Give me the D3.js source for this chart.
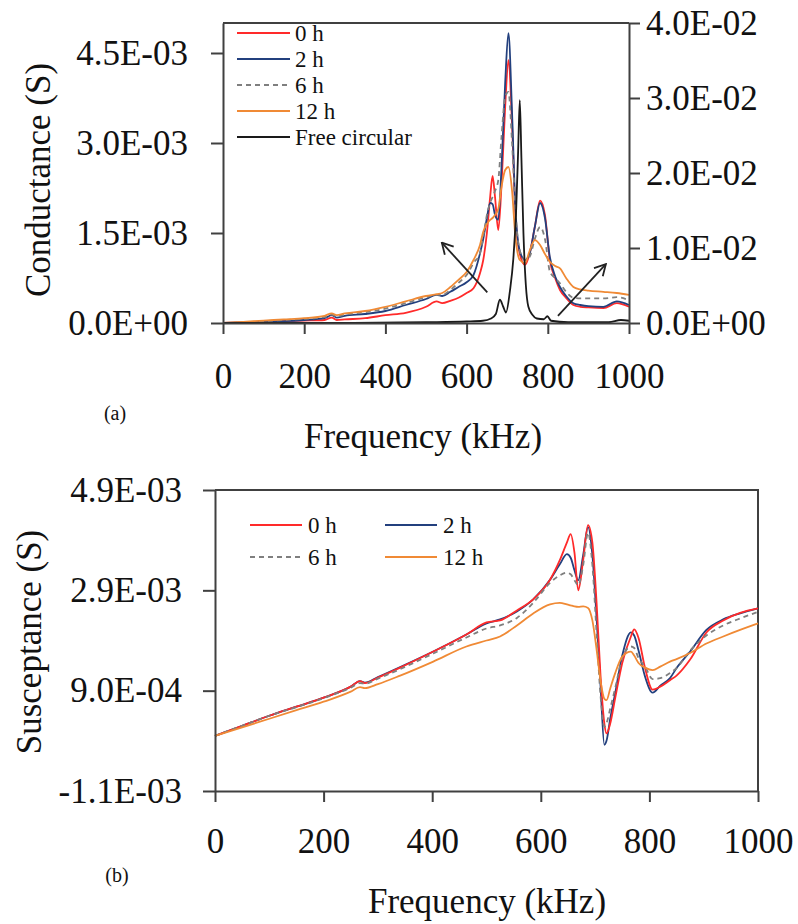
<!DOCTYPE html>
<html>
<head>
<meta charset="utf-8">
<script src="https://cdn.jsdelivr.net/npm/d3@7"></script>
<style>
  body { margin: 0; background: #fff; }
  svg text { font-family: "Liberation Serif", "Times New Roman", serif; }
</style>
</head>
<body>
<div id="chart"></div>
<script>
// (a) conductance, values in mS (x 1e-3 S)
const freqA = [0, 50, 100, 150, 200, 250, 268, 280, 300, 350, 400, 450, 500, 526, 540, 560, 580, 600, 617, 633,
  641, 650, 658, 664, 670, 678, 686, 695, 703, 712, 720, 731, 744, 755, 768, 781, 793, 805, 818, 830,
  845, 863, 880, 900, 937, 970, 1000];
const cond0h = [0, 0.01, 0.02, 0.03, 0.04, 0.05, 0.09, 0.05, 0.06, 0.08, 0.13, 0.17, 0.27, 0.36, 0.33, 0.37, 0.42, 0.50, 0.58, 0.83,
  1.05, 1.5, 2.1, 2.45, 2.1, 1.55, 2.3, 3.6, 4.38, 3.3, 1.85, 1.15, 0.97, 1.15, 1.6, 2.04, 1.8, 1.05, 0.75, 0.55,
  0.42, 0.30, 0.27, 0.26, 0.25, 0.33, 0.27];
const cond2h = [0, 0.01, 0.02, 0.03, 0.05, 0.08, 0.13, 0.09, 0.12, 0.15, 0.2, 0.3, 0.40, 0.47, 0.45, 0.52, 0.60, 0.68, 0.80, 1.16,
  1.4, 1.75, 2.0, 1.98, 1.8, 1.72, 2.6, 4.0, 4.83, 3.5, 1.95, 1.2, 1.05, 1.15, 1.6, 2.0, 1.75, 1.1, 0.78, 0.6,
  0.45, 0.33, 0.30, 0.28, 0.27, 0.36, 0.30];
const cond6h = [0, 0.01, 0.03, 0.05, 0.07, 0.1, 0.14, 0.11, 0.14, 0.18, 0.24, 0.33, 0.43, 0.47, 0.47, 0.55, 0.67, 0.80, 1.0, 1.16,
  1.44, 1.8, 2.0, 2.1, 2.2, 2.38, 3.1, 3.77, 3.85, 3.0, 1.9, 1.2, 1.05, 1.1, 1.4, 1.6, 1.4, 0.86, 0.75, 0.66,
  0.52, 0.42, 0.41, 0.41, 0.41, 0.43, 0.38];
const cond12h = [0, 0.02, 0.04, 0.06, 0.08, 0.12, 0.16, 0.13, 0.16, 0.2, 0.27, 0.36, 0.45, 0.48, 0.50, 0.60, 0.72, 0.85, 1.05, 1.3,
  1.52, 1.65, 1.72, 1.75, 1.8, 1.9, 2.27, 2.55, 2.6, 2.2, 1.45, 1.05, 1.0, 1.2, 1.38, 1.3, 1.15, 1.02, 0.95, 0.91,
  0.75, 0.6, 0.56, 0.54, 0.52, 0.5, 0.47];
// free circular, right axis, S
const freeFreq = [0, 300, 500, 600, 640, 660, 672, 682, 690, 697, 707, 715, 722, 727, 731, 735, 740, 746, 752, 762,
  773, 790, 799, 808, 850, 950, 980, 1000];
const freeVal = [0, 0, 0.0001, 0.0002, 0.0003, 0.0006, 0.0012, 0.0031, 0.0022, 0.0014, 0.0044, 0.0085, 0.015, 0.023, 0.0297, 0.022, 0.012, 0.005, 0.0022, 0.0011,
  0.0006, 0.0005, 0.0009, 0.0003, 0.0001, 0.0001, 0.0004, 0.0003];

// (b) susceptance, values in mS
const freqB = [0, 50, 100, 150, 200, 250, 267, 276, 300, 341, 402, 463, 500, 525, 556, 586, 617, 635, 648, 655,
  662, 669, 678, 687, 695, 703, 710, 717, 721, 728, 737, 750, 766, 772, 780, 792, 806, 820, 838, 850,
  875, 905, 936, 967, 1000];
const susc0h = [0.0, 0.2, 0.4, 0.58, 0.76, 0.98, 1.09, 1.05, 1.16, 1.36, 1.68, 2.02, 2.26, 2.30, 2.5, 2.72, 3.11, 3.5, 3.85, 4.02,
  3.65, 2.9, 3.5, 4.2, 3.85, 2.6, 1.2, 0.25, 0.05, 0.25, 0.75, 1.45, 1.98, 2.12, 1.95, 1.35, 0.92, 0.98, 1.11, 1.2,
  1.52, 2.06, 2.3, 2.45, 2.54];
const susc2h = [0.0, 0.2, 0.4, 0.58, 0.76, 0.98, 1.09, 1.06, 1.17, 1.37, 1.68, 2.02, 2.24, 2.32, 2.48, 2.72, 3.11, 3.42, 3.62, 3.55,
  3.3, 3.1, 3.6, 4.16, 3.6, 2.3, 1.0, -0.18, -0.1, 0.35, 0.85, 1.6, 2.06, 2.0, 1.7, 1.18, 0.86, 1.0, 1.15, 1.35,
  1.68, 2.11, 2.32, 2.44, 2.54];
const susc6h = [0.0, 0.2, 0.4, 0.57, 0.75, 0.96, 1.05, 1.04, 1.14, 1.33, 1.64, 1.96, 2.14, 2.2, 2.35, 2.65, 3.05, 3.2, 3.25, 3.22,
  3.1, 3.0, 3.4, 4.05, 3.4, 2.0, 0.8, 0.18, 0.25, 0.55, 0.95, 1.55, 1.78, 1.75, 1.55, 1.38, 1.13, 1.15, 1.25, 1.35,
  1.7, 2.0, 2.2, 2.34, 2.47];
const susc12h = [0.0, 0.17, 0.34, 0.51, 0.68, 0.88, 0.97, 0.95, 1.03, 1.2, 1.48, 1.78, 1.9, 1.98, 2.2, 2.44, 2.62, 2.65, 2.62, 2.6,
  2.58, 2.57, 2.58, 2.55, 2.3, 1.7, 1.1, 0.74, 0.71, 0.95, 1.25, 1.58, 1.68, 1.6, 1.45, 1.36, 1.31, 1.38, 1.48, 1.53,
  1.65, 1.84, 1.98, 2.11, 2.24];

const freqTicks = [0, 200, 400, 600, 800, 1000];
const condTicks = [0, 1.5, 3.0, 4.5];
const freeTicks = [0, 0.01, 0.02, 0.03, 0.04];
const suscTicks = [-1.1, 0.9, 2.9, 4.9];

// arrows in chart (a): [freq, mS]
const arrows = [
  { from: [651, 0.51], to: [539, 1.34] },
  { from: [825, 0.12], to: [943, 0.98] }
];

const series = [
  { name: "0 h", color: "#ff2a2a", dash: null },
  { name: "2 h", color: "#23407e", dash: null },
  { name: "6 h", color: "#7f7f7f", dash: "5,4" },
  { name: "12 h", color: "#f08a35", dash: null }
];
const condData = [cond0h, cond2h, cond6h, cond12h];
const suscData = [susc0h, susc2h, susc6h, susc12h];

const W = 798, H = 924;
const FONT = "Liberation Serif";
const axisColor = "#404040";
const tickFont = 35;

// "4.5E-03" style labels
function sci(v) {
  const s = v.toExponential(1);
  const [m, e] = s.split("e");
  const sign = e[0] === "-" ? "-" : "+";
  const ex = Math.abs(+e).toString().padStart(2, "0");
  return m + "E" + sign + ex;
}

const svg = d3.select("#chart").append("svg")
    .attr("width", W)
    .attr("height", H)
    .style("display", "block");

svg.append("defs").append("marker")
    .attr("id", "arrow")
    .attr("viewBox", "0 0 14 14")
    .attr("refX", 13)
    .attr("refY", 7)
    .attr("markerWidth", 14)
    .attr("markerHeight", 14)
    .attr("markerUnits", "userSpaceOnUse")
    .attr("orient", "auto")
  .append("path")
    .attr("d", "M2,1 L13,7 L2,13")
    .attr("fill", "none")
    .attr("stroke", "#222")
    .attr("stroke-width", 1.8);

function styleAxis(g) {
    g.attr("font-family", FONT).attr("font-size", tickFont);
    g.select(".domain").attr("stroke", axisColor).attr("stroke-width", 2);
    g.selectAll(".tick line").attr("stroke", axisColor).attr("stroke-width", 2);
    g.selectAll(".tick text").attr("fill", "#111");
}

function label(x, y, txt, size, rotate) {
    return svg.append("text")
        .attr("transform", `translate(${x},${y})` + (rotate ? " rotate(-90)" : ""))
        .attr("text-anchor", "middle")
        .attr("font-family", FONT)
        .attr("font-size", size)
        .attr("fill", "#111")
        .text(txt);
}

// ---------- chart (a) ----------
const xA = d3.scaleLinear().domain([0, 1000]).range([223, 629]);
const yA = d3.scaleLinear().domain([0, 5]).range([323, 23]);
const yFree = d3.scaleLinear().domain([0, 0.04]).range([323, 23]);

const gA = svg.append("g");

gA.append("line")
    .attr("x1", xA(0)).attr("x2", xA(1000))
    .attr("y1", yA(5)).attr("y2", yA(5))
    .attr("stroke", axisColor).attr("stroke-width", 2);

const lineA = d3.line()
    .x((d, i) => xA(freqA[i]))
    .y(d => yA(d))
    .curve(d3.curveMonotoneX);

series.forEach((s, k) => {
    gA.append("path")
        .datum(condData[k])
        .attr("d", lineA)
        .attr("fill", "none")
        .attr("stroke", s.color)
        .attr("stroke-width", 1.8)
        .attr("stroke-dasharray", s.dash);
});

const lineFree = d3.line()
    .x((d, i) => xA(freeFreq[i]))
    .y(d => yFree(d))
    .curve(d3.curveMonotoneX);

gA.append("path")
    .datum(freeVal)
    .attr("d", lineFree)
    .attr("fill", "none")
    .attr("stroke", "#1a1a1a")
    .attr("stroke-width", 1.8);

arrows.forEach(a => {
    gA.append("line")
        .attr("x1", xA(a.from[0])).attr("y1", yA(a.from[1]))
        .attr("x2", xA(a.to[0])).attr("y2", yA(a.to[1]))
        .attr("stroke", "#222")
        .attr("stroke-width", 1.8)
        .attr("marker-end", "url(#arrow)");
});

gA.append("g")
    .attr("transform", `translate(0,${yA(0)})`)
    .call(d3.axisBottom(xA).tickValues(freqTicks).tickSize(11).tickSizeOuter(0).tickFormat(d3.format("d")))
    .call(styleAxis)
    .call(g => g.selectAll(".tick text").attr("y", 65).attr("dy", null));

gA.append("g")
    .attr("transform", `translate(${xA(0)},0)`)
    .call(d3.axisLeft(yA).tickValues(condTicks).tickSize(12).tickSizeOuter(0).tickFormat(d => sci(d * 1e-3)))
    .call(styleAxis)
    .call(g => g.selectAll(".tick text").attr("x", -35));

gA.append("g")
    .attr("transform", `translate(${xA(1000)},0)`)
    .call(d3.axisRight(yFree).tickValues(freeTicks).tickSize(11).tickSizeOuter(0).tickFormat(sci))
    .call(styleAxis)
    .call(g => g.selectAll(".tick text").attr("x", 17));

// legend (a)
const legA = gA.append("g");
const legARows = series.concat([{ name: "Free circular", color: "#1a1a1a", dash: null }]);
legARows.forEach((s, i) => {
    const y = 33 + i * 26;
    legA.append("line")
        .attr("x1", 237).attr("x2", 290)
        .attr("y1", y).attr("y2", y)
        .attr("stroke", s.color)
        .attr("stroke-width", 1.8)
        .attr("stroke-dasharray", s.dash);
    legA.append("text")
        .attr("x", 295).attr("y", y)
        .attr("dy", "0.35em")
        .attr("font-family", FONT)
        .attr("font-size", 23)
        .attr("fill", "#111")
        .text(s.name);
});

label(38, 180, "Conductance (S)", 35, true).attr("dy", "0.35em");
label(423, 448, "Frequency (kHz)", 35, false);
label(115, 420, "(a)", 20, false);

// ---------- chart (b) ----------
const xB = d3.scaleLinear().domain([0, 1000]).range([215, 758]);
const yB = d3.scaleLinear().domain([-1.1, 4.9]).range([791, 490]);

const gB = svg.append("g");

gB.append("path")
    .attr("d", `M${xB(0)},${yB(4.9)}H${xB(1000)}V${yB(-1.1)}`)
    .attr("fill", "none")
    .attr("stroke", axisColor)
    .attr("stroke-width", 2);

const lineB = d3.line()
    .x((d, i) => xB(freqB[i]))
    .y(d => yB(d))
    .curve(d3.curveMonotoneX);

[1, 0, 2, 3].forEach(k => {
    const s = series[k];
    gB.append("path")
        .datum(suscData[k])
        .attr("d", lineB)
        .attr("fill", "none")
        .attr("stroke", s.color)
        .attr("stroke-width", 1.8)
        .attr("stroke-dasharray", s.dash);
});

gB.append("g")
    .attr("transform", `translate(0,${yB(-1.1)})`)
    .call(d3.axisBottom(xB).tickValues(freqTicks).tickSize(11).tickSizeOuter(0).tickFormat(d3.format("d")))
    .call(styleAxis)
    .call(g => g.selectAll(".tick text").attr("y", 62).attr("dy", null));

gB.append("g")
    .attr("transform", `translate(${xB(0)},0)`)
    .call(d3.axisLeft(yB).tickValues(suscTicks).tickSize(12).tickSizeOuter(0).tickFormat(d => sci(d * 1e-3)))
    .call(styleAxis)
    .call(g => g.selectAll(".tick text").attr("x", -33));

// legend (b), two columns
const legB = gB.append("g");
series.forEach((s, i) => {
    const col = i % 2, row = Math.floor(i / 2);
    const x0 = col === 0 ? 250 : 385;
    const y = 525 + row * 32;
    legB.append("line")
        .attr("x1", x0).attr("x2", x0 + 52)
        .attr("y1", y).attr("y2", y)
        .attr("stroke", s.color)
        .attr("stroke-width", 1.8)
        .attr("stroke-dasharray", s.dash);
    legB.append("text")
        .attr("x", x0 + 58).attr("y", y)
        .attr("dy", "0.35em")
        .attr("font-family", FONT)
        .attr("font-size", 23)
        .attr("fill", "#111")
        .text(s.name);
});

label(29, 642, "Susceptance (S)", 35, true).attr("dy", "0.35em");
label(487, 913, "Frequency (kHz)", 35, false);
label(117, 882, "(b)", 20, false);
</script>
</body>
</html>
